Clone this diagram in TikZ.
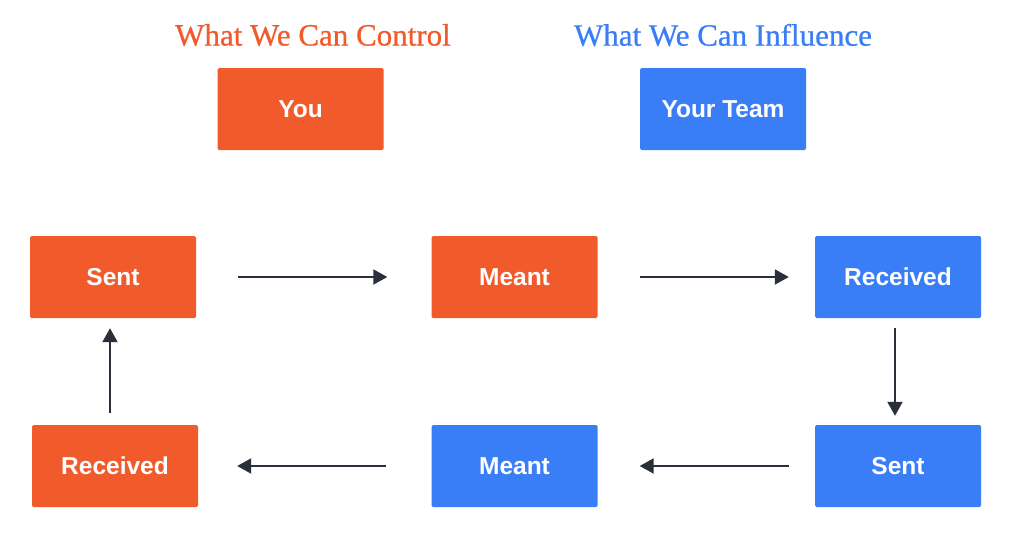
\documentclass[tikz,border=0pt]{standalone}
\usepackage{fontspec}
\setmainfont{Liberation Serif}
\setsansfont{Liberation Sans}
\newfontfamily\ttlfont[FakeBold=0.7]{Liberation Serif}
\usetikzlibrary{arrows.meta}
\definecolor{orng}{HTML}{F15A2B}
\definecolor{blu}{HTML}{3A7EF7}
\definecolor{arr}{HTML}{2B2E3B}
\tikzset{
  box/.style={rectangle, rounded corners=1.5pt, minimum width=166pt, minimum height=82pt, inner sep=0pt,
    text=white, font=\sffamily\bfseries\fontsize{24.5}{26}\selectfont},
  obox/.style={box, fill=orng},
  bbox/.style={box, fill=blu},
  ttl/.style={font=\ttlfont\fontsize{31}{34}\selectfont, inner sep=0pt},
  conn/.style={draw=arr, line width=2pt, -{Triangle[length=14pt,width=15pt]}}
}
\begin{document}
\begin{tikzpicture}[x=1pt,y=-1pt]
\useasboundingbox (0,0) rectangle (1013,549);
\node[ttl, text=orng] (t1) at (313,35) {What We Can Control};
\node[ttl, text=blu] (t2) at (723,35) {What We Can Influence};
\node[obox] (you) at (300.5,109) {You};
\node[bbox] (team) at (723,109) {Your Team};
\node[obox] (sl) at (113,277) {Sent};
\node[obox] (mt) at (514.5,277) {Meant};
\node[bbox] (rt) at (898,277) {Received};
\node[obox] (rl) at (115,466) {Received};
\node[bbox] (mb) at (514.5,466) {Meant};
\node[bbox] (sr) at (898,466) {Sent};
\draw[conn, shorten <=42pt, shorten >=44pt] (sl.east) -- (mt.west);
\draw[conn, shorten <=42pt, shorten >=26pt] (mt.east) -- (rt.west);
\draw[conn, shorten <=10pt, shorten >=9pt] ([xshift=-3pt]rt.south) -- ([xshift=-3pt]sr.north);
\draw[conn, shorten <=26pt, shorten >=42pt] (sr.west) -- (mb.east);
\draw[conn, shorten <=45pt, shorten >=39pt] (mb.west) -- (rl.east);
\draw[conn, shorten <=12pt, shorten >=10pt] ([xshift=-5pt]rl.north) -- ([xshift=-3pt]sl.south);
\end{tikzpicture}
\end{document}
